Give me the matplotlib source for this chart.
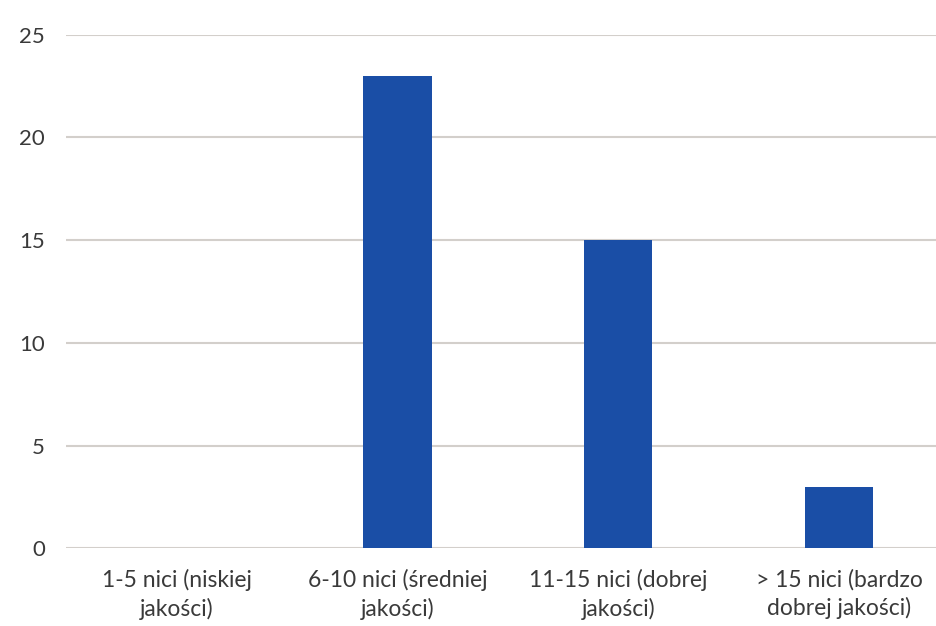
import numpy as np
import matplotlib.pyplot as plt

categories = ['1-5 nici (niskiej\njakości)', '6-10 nici (średniej\njakości)',
              '11-15 nici (dobrej\njakości)', '> 15 nici (bardzo\ndobrej jakości)']
values = [0, 23, 15, 3]
y_ticks = [0, 5, 10, 15, 20, 25]

plt.rcParams['font.family'] = ['Lato', 'DejaVu Sans']

fig = plt.figure(figsize=(9.36, 6.26), dpi=100)
# axes runs past the right edge, like the cropped original
ax = fig.add_axes([66 / 936, 77.7 / 626, 883.5 / 936, 513.6 / 626])

x = np.arange(len(categories))
ax.bar(x, values, width=0.31, color='#1a4ea6', zorder=3)

ax.set_xlim(-0.5, len(categories) - 0.5)
ax.set_ylim(0, 25)
ax.set_yticks(y_ticks)
ax.set_xticks(x)
ax.set_xticklabels(categories, fontsize=16.5, color='#3a3a3a', linespacing=1.35)
ax.tick_params(axis='y', labelsize=16, colors='#3a3a3a', length=0, pad=15)
ax.tick_params(axis='x', length=0, pad=15)

ax.grid(axis='y', color='#d3cfcb', linewidth=1.5, zorder=0)
for s in ax.spines.values():
    s.set_visible(False)

fig.savefig('out.png', dpi=100)
